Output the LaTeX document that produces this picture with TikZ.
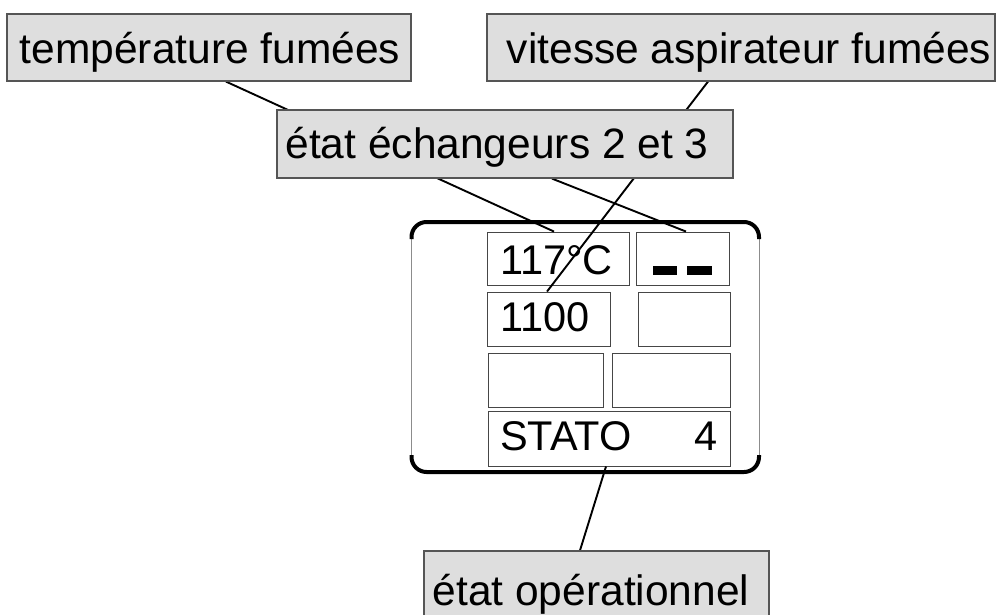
\documentclass[tikz,border=0pt]{standalone}
\usepackage{fontspec}
\setmainfont{Liberation Sans}
\definecolor{lblfill}{RGB}{222,222,222}
\definecolor{lblborder}{RGB}{85,85,85}
\definecolor{cellborder}{RGB}{70,70,70}
\definecolor{sideline}{RGB}{140,140,140}
\pgfdeclarelayer{back}
\pgfdeclarelayer{mid}
\pgfsetlayers{back,mid,main}
\tikzset{
  lblbox/.style={draw=lblborder, line width=1.2pt, fill=lblfill, rectangle, inner sep=0pt},
  cellbox/.style={draw=cellborder, line width=0.9pt, rectangle, inner sep=0pt},
  lbltext/.style={anchor=base, inner sep=0pt, font=\fontsize{42.5}{46}\selectfont, text=black},
  celltext/.style={anchor=base west, inner sep=0pt, font=\fontsize{41.5}{44}\selectfont, text=black},
  conn/.style={draw=black, line width=1.9pt},
  frame/.style={draw=black, line width=4pt, rounded corners=15pt},
  thinside/.style={draw=sideline, line width=0.8pt}
}
\begin{document}
\begin{tikzpicture}[x=1pt,y=-1pt]
\useasboundingbox (0,0) rectangle (996,614);
\begin{pgfonlayer}{back}
% display frame
\draw[thinside] (411.5,239) -- (411.5,455);
\draw[thinside] (759,239) -- (759,455);
\draw[frame] (411.5,239) -- (411.5,222) -- (759,222) -- (759,239);
\draw[frame] (411.5,455) -- (411.5,472) -- (759,472) -- (759,455);
% cells
\node[cellbox, minimum width=142pt, minimum height=53pt] (t117) at (558,258.5) {};
\node[cellbox, minimum width=93pt, minimum height=53pt] (dash) at (682.5,258.5) {};
\node[cellbox, minimum width=123pt, minimum height=54pt] (c1100) at (548.5,319) {};
\node[cellbox, minimum width=92pt, minimum height=54pt] (r2) at (684,319) {};
\node[cellbox, minimum width=115pt, minimum height=54pt] (r3l) at (545.5,380) {};
\node[cellbox, minimum width=118pt, minimum height=54pt] (r3r) at (671,380) {};
\node[cellbox, minimum width=242pt, minimum height=55pt] (stato) at (609,438.5) {};
\node[celltext] (t117txt) at (500,274) {117°C};
\node[celltext] (t1100txt) at (500,331) {1100};
\node[celltext] (statotxt) at (500,450) {STATO};
\node[celltext, anchor=base east] (fourtxt) at (718,450) {4};
\fill[black] (653,266) rectangle (677,275);
\fill[black] (687,266) rectangle (712,275);
\end{pgfonlayer}
% label boxes
\node[lblbox, minimum width=404pt, minimum height=67pt] (temp) at (209,47.5) {};
\node[lblbox, minimum width=508pt, minimum height=67pt] (vit) at (741,47.5) {};
\node[lblbox, minimum width=456pt, minimum height=68pt] (ech) at (505,144) {};
\node[lblbox, minimum width=345pt, minimum height=67pt] (oper) at (596.5,584.5) {};
\node[lbltext] (temptxt) at (210,63) {température fumées};
\node[lbltext] (vittxt) at (749,63) {vitesse aspirateur fumées};
\node[lbltext] (echtxt) at (497,158) {état échangeurs 2 et 3};
\node[lbltext] (opertxt) at (591,605) {état opérationnel};
% connectors (between the cells and the label boxes)
\begin{pgfonlayer}{mid}
\draw[conn] ([xshift=17pt]temp.south) -- ([xshift=-4pt]t117.north);
\draw[conn] ([xshift=-33pt]vit.south) -- ([xshift=-1.5pt]c1100.north);
\draw[conn] ([xshift=47pt]ech.south) -- ([xshift=3.5pt]dash.north);
\draw[conn] ([xshift=-3pt]stato.south) -- ([xshift=-16.5pt]oper.north);
\end{pgfonlayer}
\end{tikzpicture}
\end{document}
